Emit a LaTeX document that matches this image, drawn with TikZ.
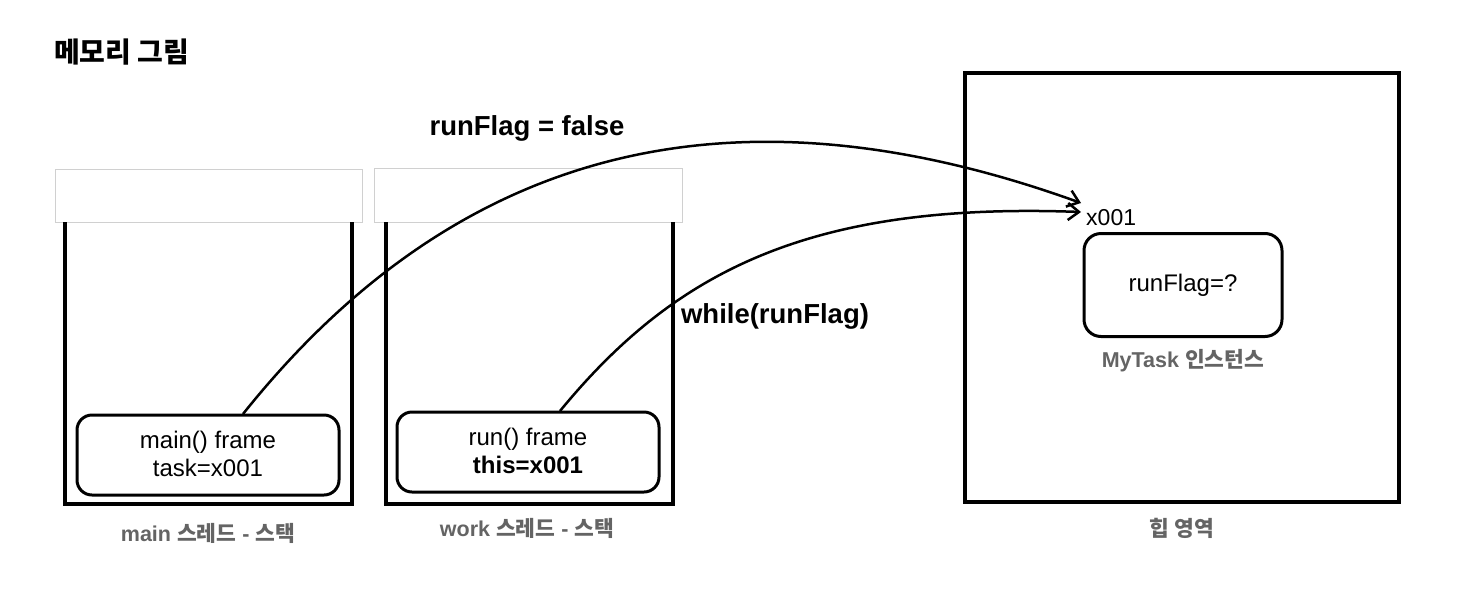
\documentclass[tikz,border=0pt]{standalone}
\usepackage{fontspec}
\setmainfont{Liberation Sans}
\newfontfamily\kr{Noto Sans CJK KR}
\usetikzlibrary{arrows.meta}
\newcommand\K[1]{{\kr #1}}
\definecolor{lblgray}{RGB}{100,100,100}
\definecolor{hdrgray}{RGB}{208,208,208}
\tikzset{
  frm/.style={draw, line width=3pt, rounded corners=15pt, minimum width=262pt, minimum height=80pt, align=center, inner sep=0pt, font=\fontsize{24}{28}\selectfont},
  lbl/.style={text=lblgray, font=\fontsize{21.5}{24}\selectfont\bfseries, inner sep=0pt},
  big/.style={font=\fontsize{27.5}{30}\selectfont\bfseries, inner sep=0pt},
  stk/.style={line width=3.5pt},
  hdr/.style={draw=hdrgray, line width=1pt},
  ptr/.style={line width=2.5pt, -{Straight Barb[length=11pt,width=17pt,line width=2.5pt]}},
}
\begin{document}
\begin{tikzpicture}[x=1pt,y=-1pt]
\useasboundingbox (0,0) rectangle (1462,606);
% title
\node[anchor=west, inner sep=0pt, font=\fontsize{28}{30}\selectfont\bfseries\kr] (title) at (54,52) {메모리 그림};
% header boxes
\draw[hdr] (55,169) rectangle (362,222);
\draw[hdr] (374,168) rectangle (682,222);
% stacks
\draw[stk] (65,222) -- (65,504) -- (352,504) -- (352,222);
\draw[stk] (386,222) -- (386,504) -- (673,504) -- (673,222);
% heap
\draw[stk] (965,73) rectangle (1399,502);
% frames
\node[frm] (mainf) at (208,455) {\raisebox{3pt}{main() frame}\\\raisebox{3pt}{task=x001}};
\node[frm] (runf) at (528,452) {\raisebox{3pt}{run() frame}\\\raisebox{3pt}{\textbf{this=x001}}};
\node[draw, line width=3pt, rounded corners=17pt, minimum width=198pt, minimum height=103pt, font=\fontsize{24}{28}\selectfont] (flag) at (1183,285) {runFlag=?};
% labels
\node[lbl] (mainl) at (208,533) {main \K{스레드} - \K{스택}};
\node[lbl] (workl) at (527,528) {work \K{스레드} - \K{스택}};
\node[lbl] (heapl) at (1182,528) {\K{힙 영역}};
\node[lbl] (mytl) at (1183,361) {MyTask \K{인스턴스}};
\node[inner sep=0pt, font=\fontsize{23}{26}\selectfont, anchor=west] (addr) at (1086,218) {x001};
\node[big] (falsel) at (527,128) {runFlag = false};
\node[big] (whilel) at (775,316) {while(runFlag)};
% arrows
\coordinate (s1) at (243,414);
\coordinate (e1) at (1081,203);
\coordinate (s2) at (560,411);
\coordinate (e2) at (1081,212);
\draw[ptr] (s1) .. controls (462,140) and (740,80) .. (e1);
\draw[ptr] (s2) .. controls (675,271) and (810,202) .. (e2);
\end{tikzpicture}
\end{document}
